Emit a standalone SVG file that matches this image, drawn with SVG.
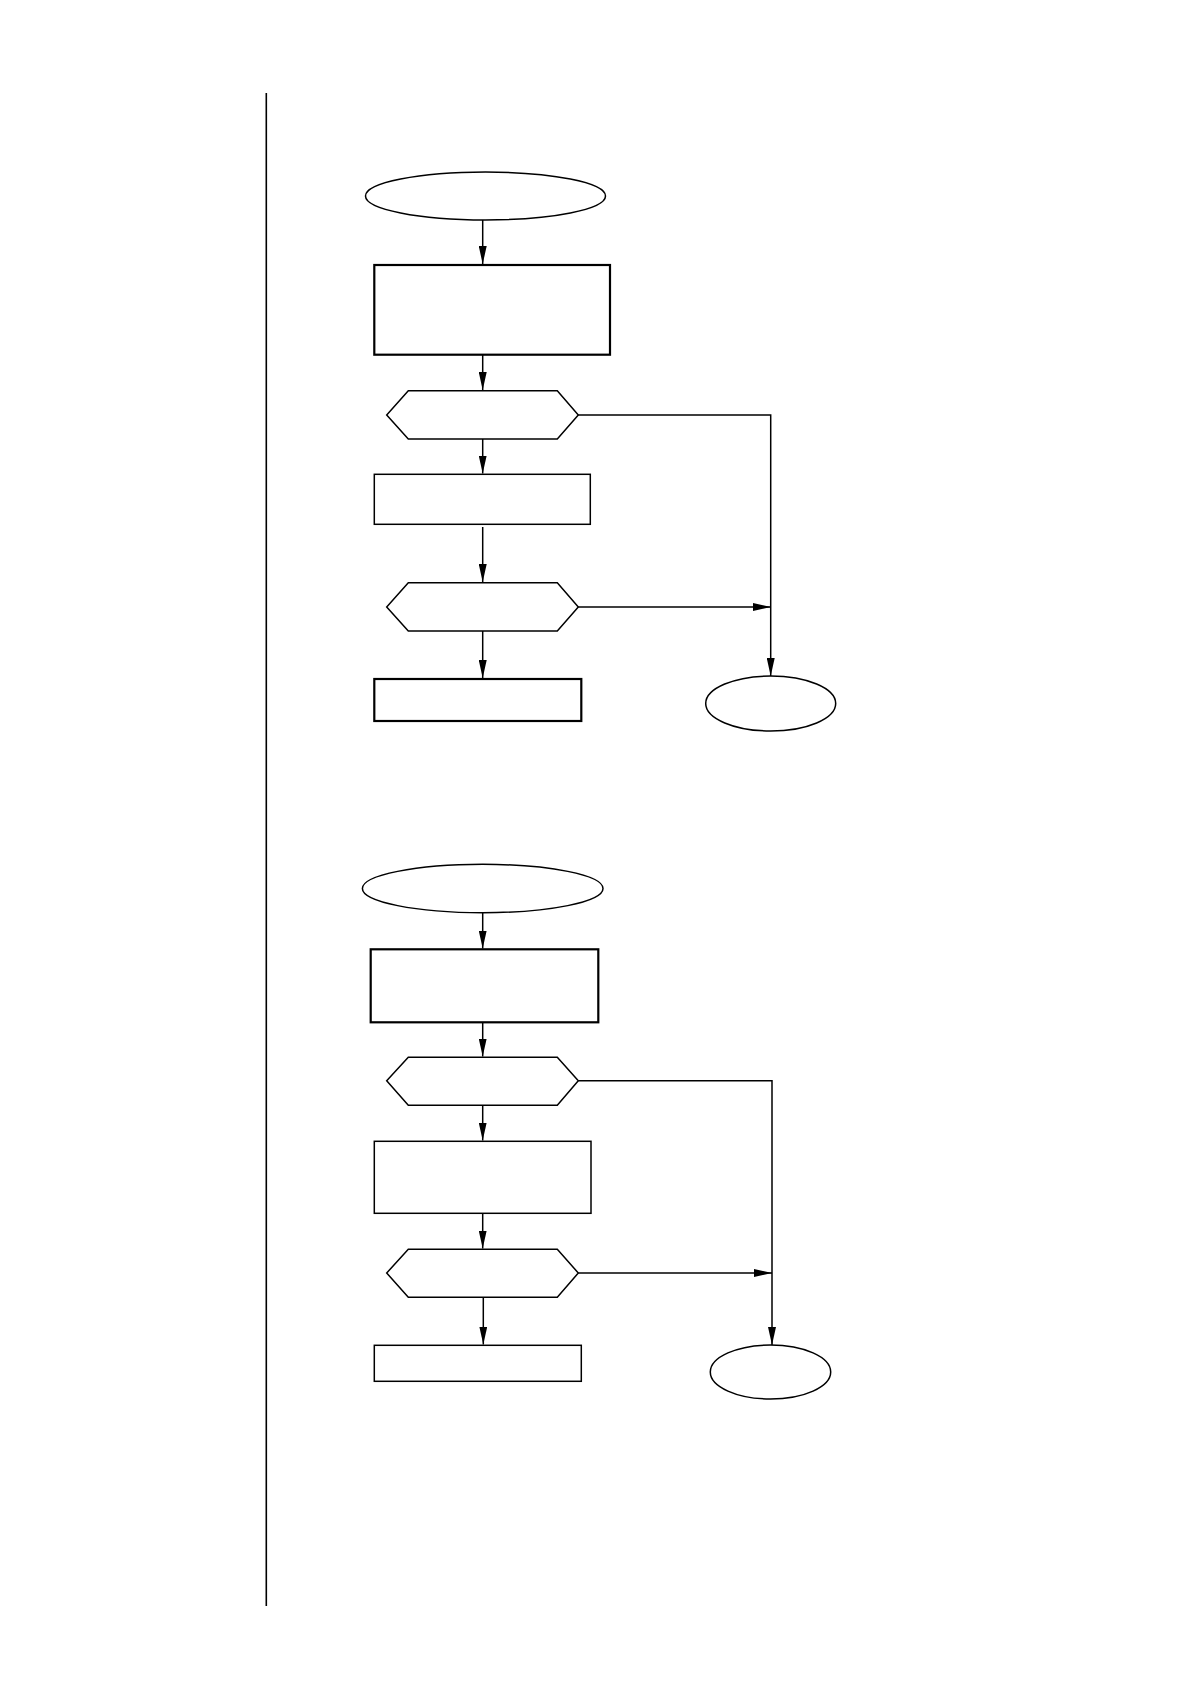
<svg xmlns="http://www.w3.org/2000/svg" width="1190" height="1684" viewBox="0 0 1190 1684">
<defs>
<marker id="ah" viewBox="0 0 18 8" refX="18" refY="4" markerWidth="18" markerHeight="8" markerUnits="userSpaceOnUse" orient="auto">
<path d="M0,0 L18,4 L0,8 Z" fill="#000"/>
</marker>
<style>
.n{fill:#fff;stroke:#000;stroke-width:1.5}
.t{fill:#fff;stroke:#000;stroke-width:2.2}
.c{fill:none;stroke:#000;stroke-width:1.5}
</style>
</defs>
<rect width="1190" height="1684" fill="#fff"/>
<line x1="266.3" y1="93" x2="266.3" y2="1606" stroke="#000" stroke-width="1.6"/>
<g id="start1"><ellipse class="n" cx="485.5" cy="196" rx="120" ry="24"/></g>
<g id="proc1"><rect class="t" x="374.3" y="265" width="235.7" height="89.7"/></g>
<g id="dec1"><polygon class="n" points="386.7,415 408.3,390.7 557.3,390.7 578.3,415 557.3,439 408.3,439"/></g>
<g id="proc2"><rect class="n" x="374.3" y="474.3" width="216" height="50"/></g>
<g id="dec2"><polygon class="n" points="386.7,607 408.3,582.7 557.3,582.7 578.3,607 557.3,631 408.3,631"/></g>
<g id="proc3"><rect class="t" x="374.3" y="679" width="207" height="42"/></g>
<g id="end1"><ellipse class="n" cx="770.7" cy="703.5" rx="65" ry="27.5"/></g>
<g id="start2"><ellipse class="n" cx="482.7" cy="888.5" rx="120.3" ry="24.2"/></g>
<g id="proc4"><rect class="t" x="370.7" y="949.3" width="227.6" height="73"/></g>
<g id="dec3"><polygon class="n" points="386.7,1080.7 408.3,1057.3 557.3,1057.3 578.3,1080.7 557.3,1105.3 408.3,1105.3"/></g>
<g id="proc5"><rect class="n" x="374.3" y="1141.3" width="216.7" height="72"/></g>
<g id="dec4"><polygon class="n" points="386.7,1273 408.3,1249.3 557.3,1249.3 578.3,1273 557.3,1297.3 408.3,1297.3"/></g>
<g id="proc6"><rect class="n" x="374.3" y="1345.3" width="207" height="36"/></g>
<g id="end2"><ellipse class="n" cx="770.5" cy="1372" rx="60.2" ry="27"/></g>
<g id="connectors">
<line class="c" x1="482.7" y1="220" x2="482.7" y2="264" marker-end="url(#ah)"/>
<line class="c" x1="482.7" y1="355" x2="482.7" y2="390" marker-end="url(#ah)"/>
<line class="c" x1="482.7" y1="439" x2="482.7" y2="473.5" marker-end="url(#ah)"/>
<line class="c" x1="482.7" y1="527" x2="482.7" y2="582" marker-end="url(#ah)"/>
<line class="c" x1="482.7" y1="631" x2="482.7" y2="678" marker-end="url(#ah)"/>
<polyline class="c" points="578.3,415 770.7,415 770.7,676" marker-end="url(#ah)"/>
<line class="c" x1="578.3" y1="607" x2="770.7" y2="607" marker-end="url(#ah)"/>
<line class="c" x1="482.7" y1="912.7" x2="482.7" y2="948.5" marker-end="url(#ah)"/>
<line class="c" x1="482.7" y1="1023" x2="482.7" y2="1056.5" marker-end="url(#ah)"/>
<line class="c" x1="482.7" y1="1105.3" x2="482.7" y2="1140.5" marker-end="url(#ah)"/>
<line class="c" x1="482.7" y1="1214" x2="482.7" y2="1248.5" marker-end="url(#ah)"/>
<line class="c" x1="483.3" y1="1297.3" x2="483.3" y2="1344.5" marker-end="url(#ah)"/>
<polyline class="c" points="578.3,1080.7 772,1080.7 772,1345" marker-end="url(#ah)"/>
<line class="c" x1="578.3" y1="1273" x2="772" y2="1273" marker-end="url(#ah)"/>
</g>
</svg>
